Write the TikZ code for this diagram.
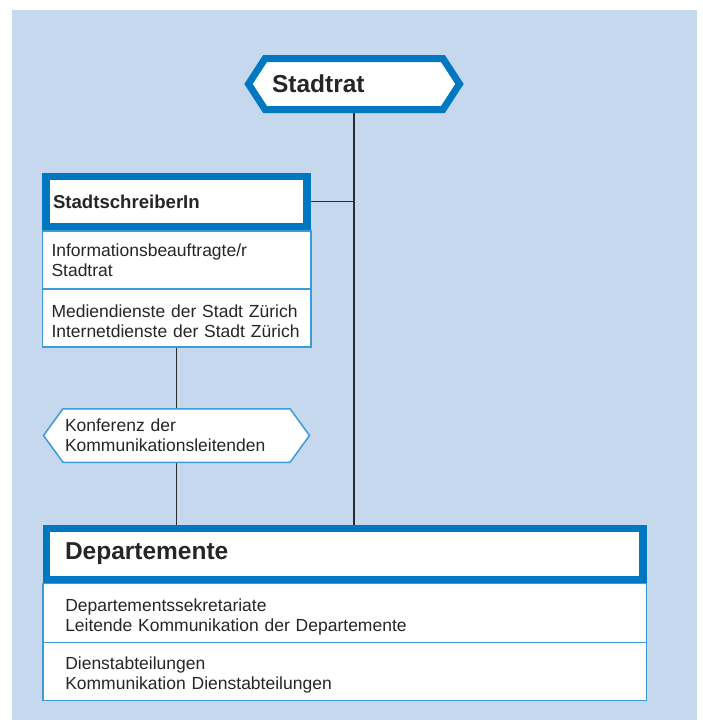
\documentclass[tikz,border=0pt]{standalone}
\usepackage{fontspec}
\setmainfont{Liberation Sans}
\usetikzlibrary{positioning,shapes.symbols,backgrounds}

\definecolor{bgblue}{HTML}{C5D8EE}
\definecolor{hdrblue}{HTML}{0078C1}
\definecolor{secblue}{HTML}{3F9BD8}
\definecolor{txtgray}{HTML}{262626}
\definecolor{linegray}{HTML}{2B2B2B}

\newcommand{\secfont}{\fontsize{17.5}{20}\selectfont}
\newcommand{\topstrut}{\rule{0pt}{20pt}}

\tikzset{
  hdrbox/.style={draw=hdrblue,line width=7.5pt,fill=white,rectangle,inner ysep=0pt,align=left,text=txtgray},
  secbox/.style={draw=secblue,line width=1.5pt,fill=white,rectangle,inner ysep=0pt,align=left,text=txtgray,font=\secfont},
  hexbox/.style={signal,signal to=east and west,fill=white,inner ysep=0pt,inner xsep=0pt,align=left,text=txtgray},
  link/.style={draw=linegray,line width=1.1pt}
}

\begin{document}
\begin{tikzpicture}[x=1pt,y=-1pt]
\useasboundingbox (0,0) rectangle (702,720);

  % top
  \node[hexbox,draw=hdrblue,line width=7pt,signal pointer angle=114,
        minimum height=51pt,minimum width=211pt,text width=164pt,
        font=\bfseries\fontsize{24.5}{28}\selectfont] (rat) at (354,84) {Stadtrat};

  % StadtschreiberIn
  \node[hdrbox,minimum width=261pt,minimum height=50.5pt,inner xsep=7pt,text width=247pt,
        font=\bfseries\fontsize{18.6}{20}\selectfont] (sch) at (176.5,201.75) {StadtschreiberIn};
  \node[secbox,below=-0.5pt of sch,minimum width=268.5pt,minimum height=58pt,
        inner xsep=9.25pt,text width=250pt] (sch1) {Informationsbeauftragte/r\\Stadtrat};
  \node[secbox,below=-1.5pt of sch1,minimum width=268.5pt,minimum height=58pt,
        inner xsep=9.25pt,text width=250pt] (sch2) {\topstrut Mediendienste der Stadt Zürich\\Internetdienste der Stadt Zürich};

  \node[hexbox,draw=secblue,line width=1.5pt,signal pointer angle=108,
        minimum height=53.5pt,minimum width=266pt,text width=223pt,font=\secfont] (konf) at (176.5,435.5)
        {Konferenz der\\Kommunikationsleitenden};

  % Departemente
  \node[hdrbox,minimum width=596.5pt,minimum height=51pt,inner xsep=18.5pt,text width=559.5pt,
        font=\bfseries\fontsize{24.5}{26}\selectfont] (dep) at (344.75,554) {Departemente};
  \node[secbox,below=-0.5pt of dep,minimum width=603.5pt,minimum height=59pt,
        inner xsep=22.25pt,text width=559pt] (dep1) {\topstrut Departementssekretariate\\Leitende Kommunikation der Departemente};
  \node[secbox,below=-1.5pt of dep1,minimum width=603.5pt,minimum height=58pt,
        inner xsep=22.25pt,text width=559pt] (dep2) {\topstrut Dienstabteilungen\\Kommunikation Dienstabteilungen};

\begin{scope}[on background layer]
  \fill[bgblue] (12,10) rectangle (697,720);
  \draw[link] (rat.south) -- (rat.south |- dep.north);
  \draw[link] (sch.east) -- (sch.east -| rat.south);
  \draw[link] (sch2.south) -- (konf.north);
  \draw[link] (konf.south) -- (konf.south |- dep.north);
\end{scope}

\end{tikzpicture}
\end{document}
